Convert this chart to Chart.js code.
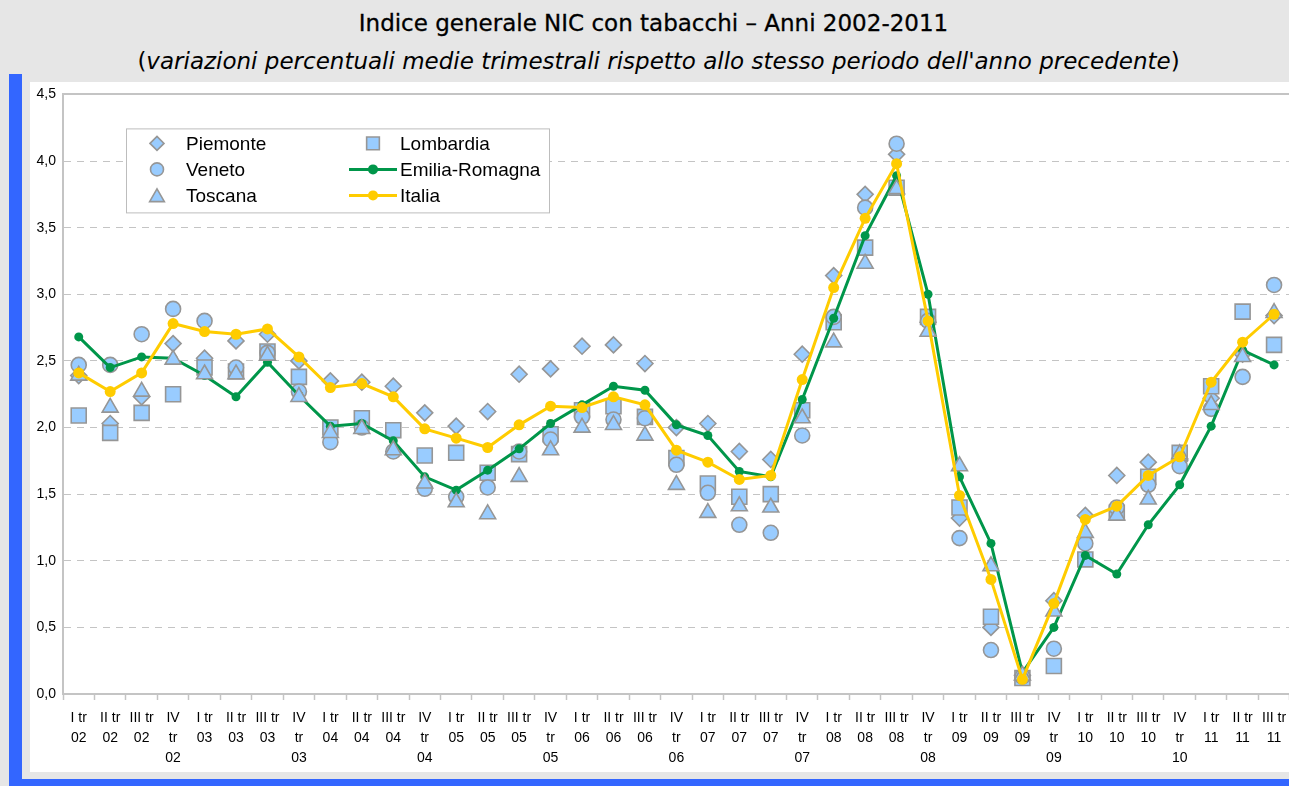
<!DOCTYPE html>
<html>
<head>
<meta charset="utf-8">
<script src="https://cdn.jsdelivr.net/npm/chart.js@4.4.1/dist/chart.umd.min.js"></script>
<style>
  html, body { margin: 0; padding: 0; background: #e6e6e6; overflow: hidden; width: 1289px; height: 786px; }
  #title { position: absolute; left: 30px; width: 1247px; top: 10px; text-align: center; font-family: 'DejaVu Sans', sans-serif; font-size: 23px; color: #000; -webkit-text-stroke: 0.3px #000; }
  #subtitle { position: absolute; left: 30px; width: 1257px; top: 48px; text-align: center; font-family: 'DejaVu Sans', sans-serif; font-size: 23px; color: #000; }
  #blueLeft { position: absolute; left: 9px; top: 74px; width: 13px; height: 712px; background: #3366ff; }
  #blueBottom { position: absolute; left: 9px; top: 779px; width: 1280px; height: 7px; background: #3366ff; }
  #panel { position: absolute; left: 30px; top: 82px; width: 1272px; height: 690px; background: #fff; }
  #holder { position: absolute; left: 30px; top: 79px; width: 1272px; height: 693px; }
</style>
</head>
<body>
<div id="title">Indice generale NIC con tabacchi – Anni 2002-2011</div>
<div id="subtitle">(<i>variazioni percentuali medie trimestrali rispetto allo stesso periodo dell'anno precedente</i>)</div>
<div id="blueLeft"></div>
<div id="blueBottom"></div>
<div id="panel"></div>
<div id="holder"><canvas id="nicChart" width="1272" height="693"></canvas></div>

<script>
// quarters (tick labels, split on several lines like the original)
const quarters = [
  ['I tr', '02'], ['II tr', '02'], ['III tr', '02'], ['IV', 'tr', '02'],
  ['I tr', '03'], ['II tr', '03'], ['III tr', '03'], ['IV', 'tr', '03'],
  ['I tr', '04'], ['II tr', '04'], ['III tr', '04'], ['IV', 'tr', '04'],
  ['I tr', '05'], ['II tr', '05'], ['III tr', '05'], ['IV', 'tr', '05'],
  ['I tr', '06'], ['II tr', '06'], ['III tr', '06'], ['IV', 'tr', '06'],
  ['I tr', '07'], ['II tr', '07'], ['III tr', '07'], ['IV', 'tr', '07'],
  ['I tr', '08'], ['II tr', '08'], ['III tr', '08'], ['IV', 'tr', '08'],
  ['I tr', '09'], ['II tr', '09'], ['III tr', '09'], ['IV', 'tr', '09'],
  ['I tr', '10'], ['II tr', '10'], ['III tr', '10'], ['IV', 'tr', '10'],
  ['I tr', '11'], ['II tr', '11'], ['III tr', '11']
];

const piemonte = [2.39, 2.03, 2.23, 2.63, 2.52, 2.65, 2.70, 2.50,
  2.35, 2.34, 2.31, 2.11, 2.01, 2.12, 2.40, 2.44,
  2.61, 2.62, 2.48, 2.00, 2.03, 1.82, 1.76, 2.55,
  3.14, 3.75, 4.05, 2.79, 1.32, 0.50, 0.14, 0.70,
  1.34, 1.64, 1.74, 1.75, 2.22, 2.55, 2.84];

const lombardia = [2.09, 1.96, 2.11, 2.25, 2.45, 2.42, 2.57, 2.38,
  2.00, 2.07, 1.98, 1.79, 1.81, 1.66, 1.80, 1.95,
  2.13, 2.16, 2.08, 1.77, 1.58, 1.48, 1.50, 2.13,
  2.79, 3.35, 3.80, 2.83, 1.40, 0.58, 0.12, 0.21,
  1.01, 1.36, 1.63, 1.81, 2.31, 2.87, 2.62];

const veneto = [2.47, 2.47, 2.70, 2.89, 2.80, 2.45, 2.56, 2.27,
  1.89, 2.00, 1.82, 1.54, 1.48, 1.55, 1.82, 1.91,
  2.08, 2.06, 2.07, 1.72, 1.51, 1.27, 1.21, 1.94,
  2.83, 3.65, 4.13, 2.80, 1.17, 0.33, 0.13, 0.34,
  1.13, 1.40, 1.57, 1.71, 2.14, 2.38, 3.07];

const emiliaRomagna = [2.68, 2.45, 2.53, 2.52, 2.39, 2.23, 2.49, 2.24,
  2.01, 2.03, 1.90, 1.63, 1.53, 1.68, 1.84, 2.03,
  2.17, 2.31, 2.28, 2.02, 1.94, 1.67, 1.63, 2.21,
  2.82, 3.44, 3.89, 3.00, 1.63, 1.13, 0.16, 0.50,
  1.04, 0.90, 1.27, 1.57, 2.01, 2.58, 2.47];

const toscana = [2.39, 2.15, 2.27, 2.51, 2.40, 2.40, 2.54, 2.23,
  1.96, 1.99, 1.83, 1.58, 1.44, 1.35, 1.63, 1.83,
  2.00, 2.02, 1.94, 1.57, 1.36, 1.41, 1.40, 2.07,
  2.64, 3.23, 3.79, 2.72, 1.71, 0.96, 0.14, 0.62,
  1.21, 1.34, 1.46, 1.80, 2.17, 2.53, 2.86];

const italia = [2.41, 2.27, 2.41, 2.78, 2.72, 2.70, 2.74, 2.53,
  2.30, 2.33, 2.23, 1.99, 1.92, 1.85, 2.02, 2.16,
  2.15, 2.23, 2.17, 1.83, 1.74, 1.61, 1.64, 2.36,
  3.05, 3.57, 3.98, 2.80, 1.49, 0.86, 0.11, 0.68,
  1.31, 1.41, 1.64, 1.78, 2.34, 2.64, 2.85];

const yTicks = [0, 0.5, 1, 1.5, 2, 2.5, 3, 3.5, 4, 4.5];

const markerFill = '#99ccff';
const markerEdge = '#969696';
const green = '#00964a';
const yellow = '#ffcc00';
const gridGray = '#c4c4c4';

Chart.defaults.font.family = "'Liberation Sans', Arial, sans-serif";
Chart.defaults.color = '#000';

function markerSet(label, data, style, radius, order) {
  return {
    label: label,
    data: data,
    showLine: false,
    pointStyle: style,
    pointRadius: radius,
    pointHoverRadius: radius,
    pointBackgroundColor: markerFill,
    pointBorderColor: markerEdge,
    pointBorderWidth: 1.6,
    backgroundColor: markerFill,
    borderColor: markerEdge,
    order: order
  };
}

function lineSet(label, data, color, radius, order) {
  return {
    label: label,
    data: data,
    borderColor: color,
    backgroundColor: color,
    borderWidth: 3,
    tension: 0,
    pointStyle: 'circle',
    pointRadius: radius,
    pointHoverRadius: radius,
    pointBackgroundColor: color,
    pointBorderWidth: 0,
    order: order
  };
}

// legend drawn as a boxed 2 x 3 grid inside the plot, like the original
const legendBox = {
  id: 'legendBox',
  afterDraw(chart) {
    const { ctx, chartArea } = chart;
    const x0 = chartArea.left + 63;
    const y0 = chartArea.top + 34;
    const w = 423, h = 84;
    ctx.save();
    ctx.fillStyle = '#fff';
    ctx.fillRect(x0, y0, w, h);
    ctx.strokeStyle = '#bdbdbd';
    ctx.lineWidth = 1;
    ctx.strokeRect(x0 + 0.5, y0 + 0.5, w, h);

    const names = ['Piemonte', 'Veneto', 'Toscana', 'Lombardia', 'Emilia-Romagna', 'Italia'];
    names.forEach((name, k) => {
      const ds = chart.data.datasets.find(d => d.label === name);
      const col = Math.floor(k / 3), row = k % 3;
      const mx = x0 + 31 + col * 216;
      const my = y0 + 15 + row * 26;
      if (ds.showLine === false) {
        ctx.fillStyle = markerFill;
        ctx.strokeStyle = markerEdge;
        ctx.lineWidth = 1.6;
        const r = { rectRot: 7, circle: 6.5, triangle: 8.5, rect: 9 }[ds.pointStyle];
        Chart.helpers.drawPoint(ctx, { pointStyle: ds.pointStyle, radius: r, borderWidth: 1.6, rotation: 0 }, mx, my + (ds.pointStyle === 'triangle' ? 2 : 0));
      } else {
        ctx.strokeStyle = ds.borderColor;
        ctx.lineWidth = 3;
        ctx.beginPath();
        ctx.moveTo(mx - 24, my);
        ctx.lineTo(mx + 24, my);
        ctx.stroke();
        ctx.fillStyle = ds.borderColor;
        ctx.beginPath();
        ctx.arc(mx, my, 5, 0, Math.PI * 2);
        ctx.fill();
      }
      ctx.fillStyle = '#000';
      ctx.font = "19px 'Liberation Sans', Arial, sans-serif";
      ctx.textBaseline = 'middle';
      ctx.fillText(name, x0 + 60 + col * 214, my + 1);
    });
    ctx.restore();
  }
};

const ctx = document.getElementById('nicChart').getContext('2d');
new Chart(ctx, {
  type: 'line',
  data: {
    labels: quarters,
    datasets: [
      markerSet('Piemonte', piemonte, 'rectRot', 8, 6),
      markerSet('Lombardia', lombardia, 'rect', 10.6, 5),
      markerSet('Veneto', veneto, 'circle', 7.5, 4),
      lineSet('Emilia-Romagna', emiliaRomagna, green, 4.5, 3),
      markerSet('Toscana', toscana, 'triangle', 9.2, 2),
      lineSet('Italia', italia, yellow, 5.5, 1)
    ]
  },
  options: {
    responsive: false,
    animation: false,
    devicePixelRatio: 1,
    layout: { padding: { top: 8, right: 0, bottom: 0, left: 0 } },
    plugins: {
      legend: { display: false },
      tooltip: { enabled: false },
      title: { display: false }
    },
    scales: {
      x: {
        type: 'category',
        offset: true,
        afterFit: (scale) => { scale.height = 78; },
        grid: {
          offset: true,
          drawOnChartArea: false,
          drawTicks: true,
          tickLength: 6,
          tickColor: gridGray,
          tickWidth: 1.5
        },
        border: { display: true, color: gridGray, width: 2 },
        ticks: {
          autoSkip: false,
          maxRotation: 0,
          minRotation: 0,
          padding: 8,
          font: { size: 14, lineHeight: 1.43 },
          color: '#000'
        }
      },
      y: {
        min: 0,
        max: 4.5,
        afterFit: (scale) => { scale.width = 33; },
        afterBuildTicks: (scale) => { scale.ticks = yTicks.map(v => ({ value: v })); },
        grid: {
          drawTicks: false,
          color: (c) => c.tick && c.tick.value === 0 ? 'rgba(0,0,0,0)' : gridGray,
          lineWidth: (c) => c.tick && c.tick.value === 4.5 ? 2 : 1
        },
        border: {
          display: true,
          color: gridGray,
          width: 2,
          dash: (c) => c.tick && c.tick.value > 0 && c.tick.value < 4.5 ? [7, 6] : []
        },
        ticks: {
          padding: 7,
          font: { size: 14 },
          color: '#000',
          callback: (v) => Number(v).toFixed(1).replace('.', ',')
        }
      }
    }
  },
  plugins: [legendBox]
});
</script>
</body>
</html>
